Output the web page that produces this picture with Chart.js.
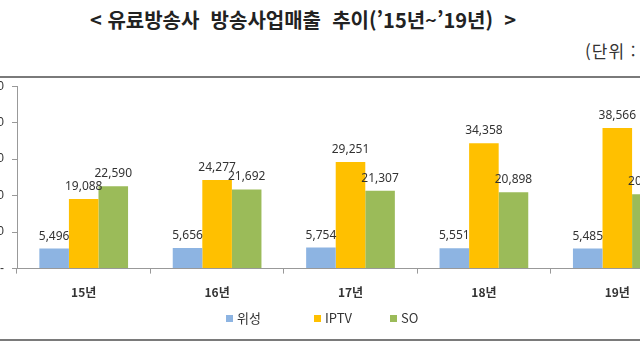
<!DOCTYPE html>
<html lang="ko">
<head>
<meta charset="utf-8">
<script src="https://cdn.jsdelivr.net/npm/chart.js@4"></script>
<style>
  html, body { margin: 0; padding: 0; background: #fff; }
  body { width: 640px; height: 350px; position: relative; overflow: hidden; font-family: "Noto Sans CJK KR", "Noto Sans", sans-serif; }
  .title { position: absolute; top: 5px; left: 0; width: 606px; text-align: center; font-size: 20px; font-weight: 700; color: #222; white-space: pre; }
  .unit  { position: absolute; top: 38px; left: 585px; font-size: 17px; letter-spacing: 1px; color: #333; white-space: pre; }
  .rule  { position: absolute; left: 0; width: 640px; height: 2px; background: #7a7a7a; }
  .wrap  { position: absolute; left: -50px; top: 71px; width: 734px; height: 241px; }
  .legend { position: absolute; top: 308px; left: 226px; font-size: 13px; color: #333; }
  .legend span { position: absolute; white-space: nowrap; line-height: 20px; }
  .legend i { display: inline-block; width: 7px; height: 7px; margin-right: 4px; vertical-align: 1px; }
</style>
</head>
<body>
<div class="title">&lt; 유료방송사  방송사업매출  추이(’15년~’19년)  &gt;</div>
<div class="unit">(단위 :  억원)</div>
<div class="rule" style="top:76px"></div>
<div class="rule" style="top:339px"></div>
<div class="wrap"><canvas id="chart"></canvas></div>
<div class="legend" id="legend"></div>

<script>
// ── Data ──────────────────────────────────────
const YEARS   = ['15년', '16년', '17년', '18년', '19년'];
const SAT     = [5496, 5656, 5754, 5551, 5485];       // 위성
const IPTV    = [19088, 24277, 29251, 34358, 38566];
const SO      = [22590, 21692, 21307, 20898, 20357];
const Y_MAX   = 50000;
const Y_STEP  = 10000;

const fmt = v => v === 0 ? '-' : v.toLocaleString('en-US');

// value labels above each bar
const valueLabels = {
  id: 'valueLabels',
  afterDatasetsDraw(chart) {
    const ctx = chart.ctx;
    ctx.save();
    ctx.font = '12px "Noto Sans", sans-serif';
    ctx.fillStyle = '#333';
    ctx.textAlign = 'center';
    ctx.textBaseline = 'alphabetic';
    chart.data.datasets.forEach((ds, i) => {
      chart.getDatasetMeta(i).data.forEach((bar, j) => {
        ctx.fillText(fmt(ds.data[j]), bar.x, bar.y - 9);
      });
    });
    ctx.restore();
  }
};

const chart = new Chart(document.getElementById('chart'), {
  type: 'bar',
  data: {
    labels: YEARS,
    datasets: [
      { label: '위성', data: SAT,  backgroundColor: '#8db4e2' },
      { label: 'IPTV', data: IPTV, backgroundColor: '#ffc000' },
      { label: 'SO',   data: SO,   backgroundColor: '#9bbb59' }
    ]
  },
  options: {
    responsive: true,
    maintainAspectRatio: false,
    animation: false,
    layout: { padding: 0 },
    datasets: { bar: { categoryPercentage: 0.665, barPercentage: 1 } },
    plugins: { legend: { display: false }, tooltip: { enabled: false } },
    scales: {
      x: {
        grid: { display: true, drawOnChartArea: false, tickLength: 5, color: '#999', offset: true },
        border: { color: '#999' },
        ticks: { color: '#333', padding: 12, font: { family: '"Noto Sans CJK KR", sans-serif', size: 12, weight: '600' } }
      },
      y: {
        min: 0, max: Y_MAX,
        afterFit: s => { s.width = 67; },
        grid: { display: true, drawOnChartArea: false, tickLength: 5, color: '#999' },
        border: { color: '#999' },
        ticks: { stepSize: Y_STEP, padding: 8, color: '#333', font: { size: 12 }, callback: fmt }
      }
    }
  },
  plugins: [valueLabels]
});

// ── Legend (positions as in the original) ───
const LEG_X = [0, 88, 164];
const $legend = document.getElementById('legend');
chart.data.datasets.forEach((ds, i) => {
  const s = document.createElement('span');
  s.style.left = LEG_X[i] + 'px';
  s.innerHTML = `<i style="background:${ds.backgroundColor}"></i>${ds.label}`;
  $legend.appendChild(s);
});
</script>
</body>
</html>
